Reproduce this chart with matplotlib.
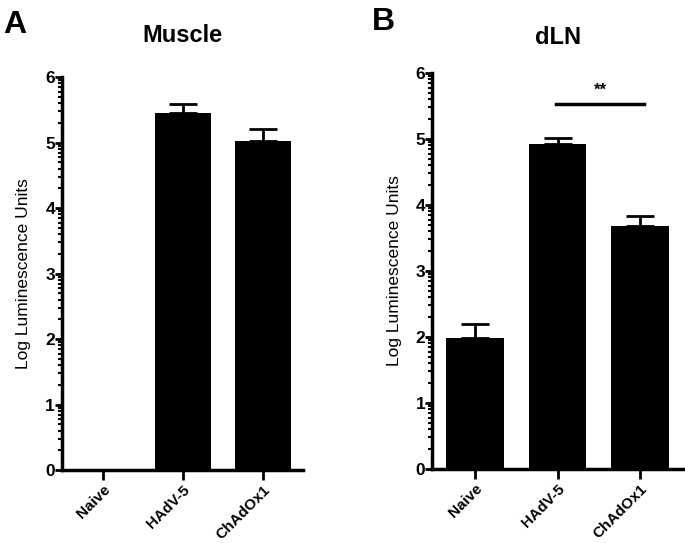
import numpy as np
import matplotlib.pyplot as plt

plt.rcParams['font.family'] = ['Liberation Sans', 'DejaVu Sans']

groups = ["Naive", "HAdV-5", "ChAdOx1"]
muscle_mean = [0.0, 5.45, 5.02]
muscle_err = [0.0, 0.14, 0.19]
dln_mean = [1.98, 4.93, 3.68]
dln_err = [0.21, 0.08, 0.16]

fig = plt.figure(figsize=(6.85, 5.43), dpi=100)
axA = fig.add_axes([0.0905, 0.1344, 0.352, 0.7236])
axB = fig.add_axes([0.631, 0.1363, 0.366, 0.7293])

minor = [k + np.log10(m) for k in range(6) for m in range(2, 10)]


def style(ax, means, errs, xlim):
    x = np.arange(len(groups))
    ax.bar(x, means, width=0.7, color='black', zorder=2)
    for xi, m, e in zip(x, means, errs):
        if e > 0:
            ax.errorbar(xi, m, yerr=[[0], [e]], color='black', lw=2,
                        capsize=10, capthick=2, zorder=3)
    ax.set_xlim(*xlim)
    ax.set_ylim(0, 6)
    ax.set_yticks(range(7))
    ax.set_yticks(minor, minor=True)
    ax.set_xticks(x)
    ax.set_xticklabels(groups, rotation=45, ha='right', rotation_mode='anchor',
                       fontsize=11, fontweight='bold')
    for lab in ax.get_yticklabels():
        lab.set_fontweight('bold')
    ax.tick_params(axis='y', which='major', length=5, width=2, pad=0, labelsize=12.5)
    ax.tick_params(axis='y', which='minor', length=3, width=1.5)
    ax.tick_params(axis='x', length=7, width=2, pad=2)
    for s in ['top', 'right']:
        ax.spines[s].set_visible(False)
    for s in ['left', 'bottom']:
        ax.spines[s].set_linewidth(2.5)
    ax.set_ylabel("Log Luminescence Units", fontsize=12.5, labelpad=10)


style(axA, muscle_mean, muscle_err, (-0.51, 2.5))
style(axB, dln_mean, dln_err, (-0.52, 2.52))

axA.set_title("Muscle", fontsize=17, fontweight='bold', pad=25)
axB.set_title("dLN", fontsize=17, fontweight='bold', pad=21)

# significance bar
axB.plot([0.98, 2.05], [5.53, 5.53], color='black', lw=2.5, clip_on=False)
axB.text(1.52, 5.62, "**", ha='center', va='bottom', fontsize=12, fontweight='bold')

fig.text(0.005, 0.94, "A", fontsize=23, fontweight='bold')
fig.text(0.543, 0.945, "B", fontsize=23, fontweight='bold')

fig.savefig("out.png", dpi=100)
